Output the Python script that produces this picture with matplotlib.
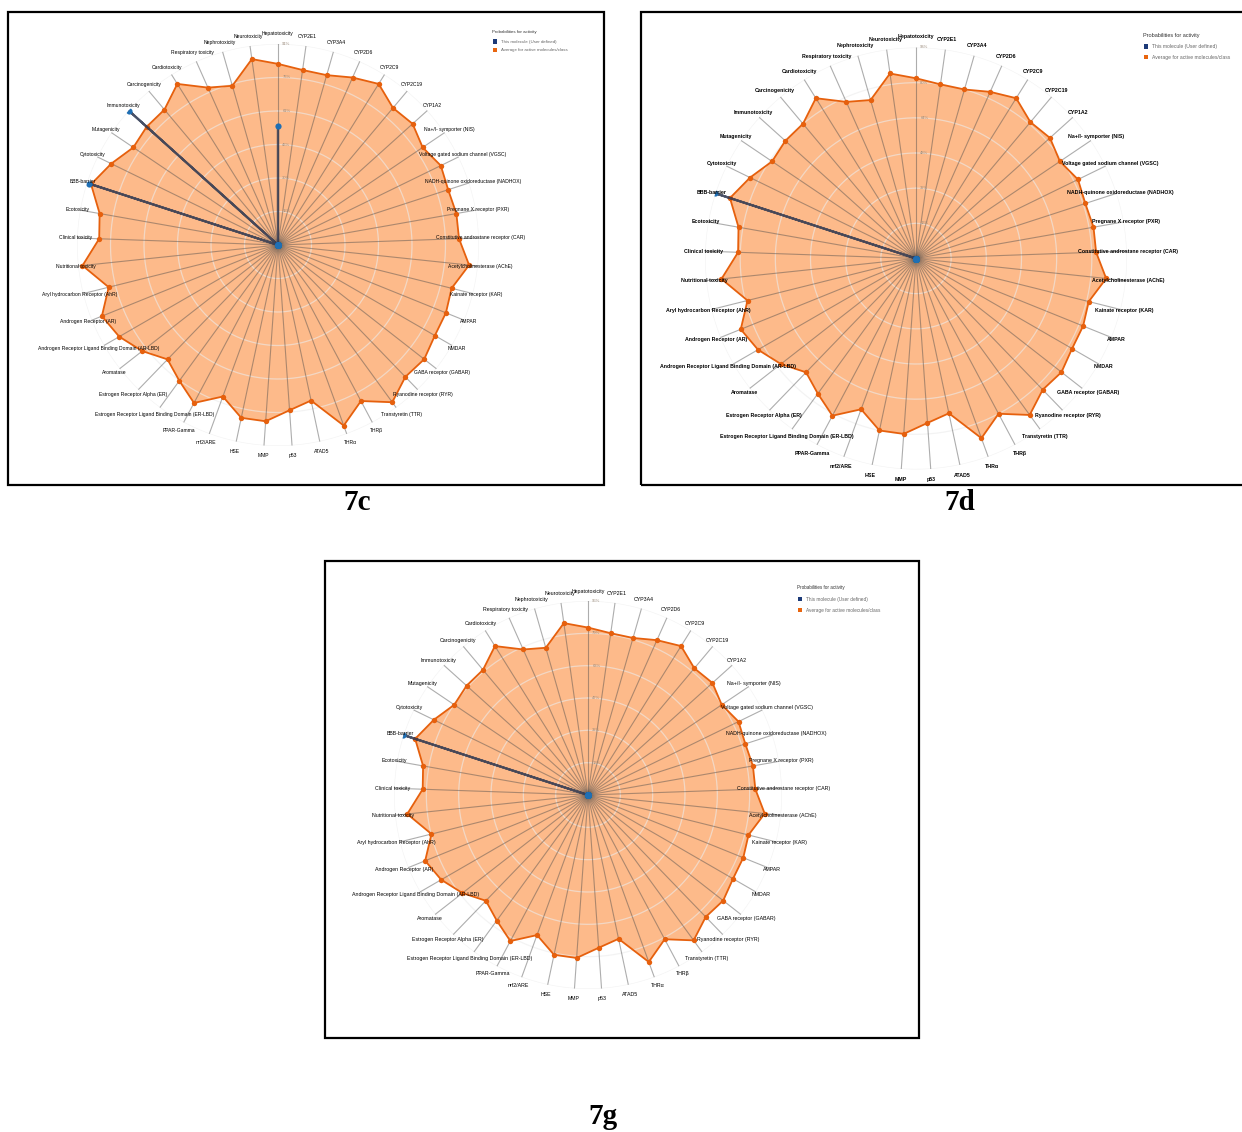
import numpy as np
import matplotlib
matplotlib.use('Agg')
import matplotlib.pyplot as plt
from matplotlib.patches import Rectangle

# ProTox-II toxicity radar charts for three compounds (7c, 7d, 7g)
W, H = 1242, 1132

endpoints = ['Hepatotoxicity', 'CYP2E1', 'CYP3A4', 'CYP2D6', 'CYP2C9', 'CYP2C19', 'CYP1A2',
             'Na+/I- symporter (NIS)', 'Voltage gated sodium channel (VGSC)',
             'NADH-quinone oxidoreductase (NADHOX)', 'Pregnane X receptor (PXR)',
             'Constitutive androstane receptor (CAR)', 'Acetylcholinesterase (AChE)',
             'Kainate receptor (KAR)', 'AMPAR', 'NMDAR', 'GABA receptor (GABAR)',
             'Ryanodine receptor (RYR)', 'Transtyretin (TTR)', 'THRβ', 'THRα', 'ATAD5', 'p53',
             'MMP', 'HSE', 'nrf2/ARE', 'PPAR-Gamma',
             'Estrogen Receptor Ligand Binding Domain (ER-LBD)', 'Estrogen Receptor Alpha (ER)',
             'Aromatase', 'Androgen Receptor Ligand Binding Domain (AR-LBD)',
             'Androgen Receptor (AR)', 'Aryl hydrocarbon Receptor (AhR)', 'Nutritional toxicity',
             'Clinical toxicity', 'Ecotoxicity', 'BBB-barrier', 'Cytotoxicity', 'Mutagenicity',
             'Immunotoxicity', 'Carcinogenicity', 'Cardiotoxicity', 'Respiratory toxicity',
             'Nephrotoxicity', 'Neurotoxicity']

# average for active molecules/class (%), same in every panel
average = [82, 80, 80, 83, 86, 81, 82, 79, 82, 81, 82, 82, 87, 81, 82, 82, 84, 83, 88, 80,
           87, 72, 75, 80, 80, 73, 81, 76, 72, 78, 83, 86, 79, 89, 81, 82, 89, 84, 79, 80,
           80, 86, 78, 75, 85]

# this molecule (%), only the non-zero endpoints
mol_7c = {'Hepatotoxicity': 54, 'BBB-barrier': 90, 'Immunotoxicity': 91}
mol_7d = {'BBB-barrier': 96}
mol_7g = {'BBB-barrier': 95}

ticks_7c = ['15%', '30%', '46%', '61%', '76%', '91%']
ticks_7d = ['16%', '32%', '48%', '64%', '80%', '96%']
ticks_7g = ['16%', '32%', '47%', '63%', '79%', '95%']

fig = plt.figure(figsize=(W / 100, H / 100), dpi=100)
fig.patch.set_facecolor('white')


def px(x, y):
    return x / W, 1 - y / H


def box(x0, y0, x1, y1):
    fig.add_artist(Rectangle(px(x0, y1), (x1 - x0) / W, (y1 - y0) / H, transform=fig.transFigure,
                             fill=False, edgecolor='black', lw=1.6))


def legend(x, y, dy, fs_t, fs_i):
    fig.text(*px(x, y), 'Probabilities for activity', fontsize=fs_t, color='#333333',
             ha='left', va='center', family='Liberation Sans')
    for k, (lab, c) in enumerate([('This molecule (User defined)', '#1c3a78'),
                                  ('Average for active molecules/class', '#e8650f')]):
        yy = y + dy * (k + 1) + 1
        fig.add_artist(Rectangle(px(x + 1, yy + 2), 4 / W, 4 / H, transform=fig.transFigure,
                                 facecolor=c, edgecolor='none'))
        fig.text(*px(x + 9, yy), lab, fontsize=fs_i, color='#666666', ha='left', va='center',
                 family='Liberation Sans')


def radar(cx, cy, R, ticks, molecule, fs, weight):
    vmax = float(ticks[-1].rstrip('%'))
    ax = fig.add_axes([(cx - R) / W, 1 - (cy + R) / H, 2 * R / W, 2 * R / H], projection='polar')
    ax.set_theta_zero_location('N')
    ax.set_theta_direction(-1)
    ax.set_ylim(0, vmax)
    ax.axis('off')
    n = len(endpoints)
    th = np.deg2rad(np.arange(n) * 360 / n)
    thc = np.append(th, th[0])
    avg = np.array(average, float)
    mol = np.array([molecule.get(e, 0) for e in endpoints], float)

    ax.fill(thc, np.append(avg, avg[0]), color='#fd8d3c', alpha=0.6, lw=0, zorder=1)
    circ = np.linspace(0, 2 * np.pi, 300)
    for lv in np.linspace(vmax / 6, vmax, 6):
        ax.plot(circ, np.full_like(circ, lv), color='#ececec', lw=0.9, alpha=0.6, zorder=2)
    for t in th:
        ax.plot([t, t], [0, vmax], color='#4a4a4a', alpha=0.45, lw=0.8, zorder=3)
    ax.plot(thc, np.append(avg, avg[0]), color='#e6600d', lw=1.3, zorder=4)
    ax.scatter(th, avg, s=15, color='#e6600d', lw=0, zorder=5)
    ax.plot(thc, np.append(mol, mol[0]), color='#2a3550', alpha=0.8, lw=1.6, zorder=6)
    ax.scatter(th, mol, s=20, color='#1f6fb4', lw=0, zorder=7)

    for t, name in zip(th, endpoints):
        r = vmax * (1.005 + 0.045 * abs(np.cos(t)))
        ax.text(t, r, name, ha='center', va='center', fontsize=fs, weight=weight,
                family='Liberation Sans', color='black', clip_on=False, zorder=8)
    for lv, tl in zip(np.linspace(vmax / 6, vmax, 6), ticks):
        ax.annotate(tl, (0, lv), xytext=(6, 0), textcoords='offset points', ha='center',
                    va='center', fontsize=3.0, color='#9a8a7a', family='Liberation Sans',
                    zorder=8)


# panel frames
box(8, 12, 604, 485)
box(641, 12, 1260, 485)
box(325, 561, 919, 1038)

radar(278, 245, 201, ticks_7c, mol_7c, 3.6, 'normal')
radar(916, 258.5, 211, ticks_7d, mol_7d, 3.75, 'bold')
radar(588, 795, 194, ticks_7g, mol_7g, 3.75, 'normal')

legend(492, 32, 8.5, 3.2, 3.2)
legend(1143, 35, 10.5, 4.0, 3.6)
legend(797, 587, 11, 3.3, 3.4)

for x, y, s in [(357, 503, '7c'), (960, 503, '7d'), (603, 1117, '7g')]:
    fig.text(*px(x, y), s, fontsize=21, weight='bold', family='Liberation Serif',
             ha='center', va='center')

fig.savefig('out.png', dpi=100, facecolor='white')
